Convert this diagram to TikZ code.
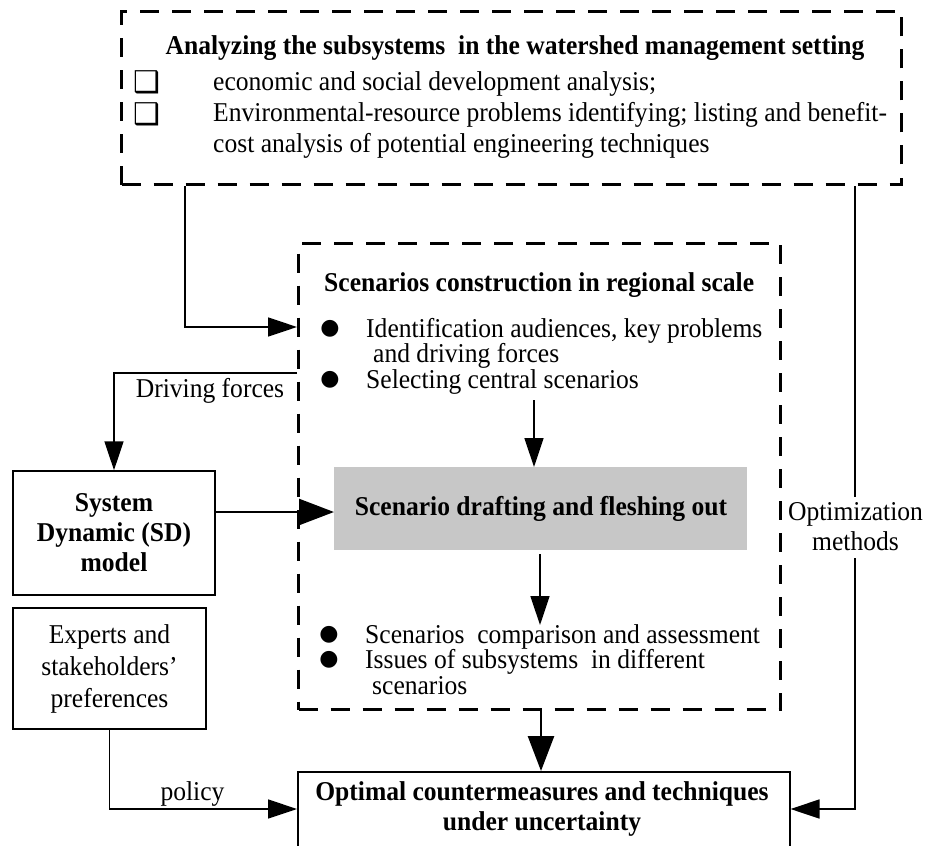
\documentclass[tikz,border=0pt]{standalone}
\usepackage{fontspec}
\setmainfont{Liberation Serif}[FakeStretch=0.94]
\newfontfamily\symfont{DejaVu Sans}
\usetikzlibrary{arrows.meta}

\begin{document}
\begin{tikzpicture}[x=1pt,y=-1pt,
  every node/.style={font=\fontsize{27.2}{31}\selectfont, inner sep=0pt},
  dashbox/.style={draw, line width=3pt, dash pattern=on 19pt off 13pt, anchor=north west},
  solidbox/.style={draw, line width=1.5pt, align=center},
  txt/.style={anchor=base west},
  bold txt/.style={font=\fontsize{27.2}{31}\selectfont\bfseries},
  conn/.style={line width=1.5pt, -{Triangle[length=29pt,width=19pt]}},
  thick conn/.style={line width=2.6pt, -{Triangle[length=35pt,width=26pt]}},
  mark box/.style={anchor=center, font=\symfont\fontsize{30}{30}\selectfont},
  mark dot/.style={anchor=center, font=\symfont\fontsize{22}{22}\selectfont}
]
\useasboundingbox (0,0) rectangle (933,845);
\clip (0,0) rectangle (933,845);

% upper dashed frame: subsystem analysis
\node[dashbox, minimum width=780pt, minimum height=173pt] (top) at (120,10) {};
\node[anchor=base, bold txt] (toptitle) at (515,55) {Analyzing the subsystems\ \ in the watershed management setting};
\node[mark box] (sq1) at (147,82) {❑};
\node[txt] (t1) at (213,91) {economic and social development analysis;};
\node[mark box] (sq2) at (147,114) {❑};
\node[txt] (t2) at (213,122) {Environmental-resource problems identifying; listing and benefit-};
\node[txt] (t3) at (213,153) {cost analysis of potential engineering techniques};

% central dashed frame: scenario construction
\node[dashbox, minimum width=482pt, minimum height=466pt] (mid) at (297,242) {};
\node[txt, bold txt] (midtitle) at (324,291) {Scenarios construction in regional scale};
\node[mark dot] (d1) at (330,329) {●};
\node[txt] (m1) at (366,337) {Identification audiences, key problems};
\node[txt] (m2) at (373,362) {and driving forces};
\node[mark dot] (d2) at (330,380) {●};
\node[txt] (m3) at (366,388) {Selecting central scenarios};

\node[fill=black!22, minimum width=413pt, minimum height=83pt, anchor=north west] (draft) at (334,467) {};
\node[anchor=base, bold txt] (drafttxt) at (541,515) {Scenario drafting and fleshing out};

\node[mark dot] (d3) at (329,635) {●};
\node[txt] (m4) at (365,643) {Scenarios\ \ comparison and assessment};
\node[mark dot] (d4) at (329,660) {●};
\node[txt] (m5) at (365,668) {Issues of subsystems\ \ in different};
\node[txt] (m6) at (372,694) {scenarios};

% side boxes
\node[solidbox, font=\fontsize{27.2}{30}\selectfont\bfseries, minimum width=202pt, minimum height=124pt] (sd) at (114,533) {System\\Dynamic (SD)\\model};
\node[solidbox, font=\fontsize{27.2}{32}\selectfont, minimum width=193pt, minimum height=121pt] (exp) at (109.5,668.5) {Experts and\\stakeholders'\\preferences};

% result box
\node[draw, line width=1.5pt, minimum width=492pt, minimum height=100pt, anchor=north west] (opt) at (297,771) {};
\node[anchor=base, bold txt] (opt1) at (542,800) {Optimal countermeasures and techniques};
\node[anchor=base, bold txt] (opt2) at (542,830) {under uncertainty};

% labels on connectors
\node[anchor=base] (dflab) at (210,397) {Driving forces};
\node[anchor=base] (pollab) at (192.5,800) {policy};
\node[anchor=base] (optlab1) at (855.5,520) {Optimization};
\node[anchor=base] (optlab2) at (855.5,550) {methods};

% connector bends and ends
\coordinate (c1) at (185,327);
\coordinate (c2) at (0,373);
\coordinate (c3) at (0,809);
\coordinate (c4) at (534,400);
\coordinate (c5) at (540,554);
\coordinate (c6) at (540,625);
\coordinate (g1) at (855,497);
\coordinate (g2) at (855,558);

\draw[conn] (top.south -| c1) -- (c1) -- (mid.west |- c1);
\draw[conn] (mid.west |- c2) -| (sd.north);
\draw[thick conn] (sd.east |- 0,512) -- (draft.west |- 0,512);
\draw[conn] (c4) -- (draft.north -| c4);
\draw[conn] (c5) -- (c6);
\draw[thick conn] (mid.south -| 541,0) -- (opt.north -| 541,0);
\draw[conn] (exp.south) |- (opt.west |- c3);
\draw[line width=1.5pt] (top.south -| g1) -- (g1);
\draw[conn] (g2) |- (opt.east |- c3);
\end{tikzpicture}
\end{document}
